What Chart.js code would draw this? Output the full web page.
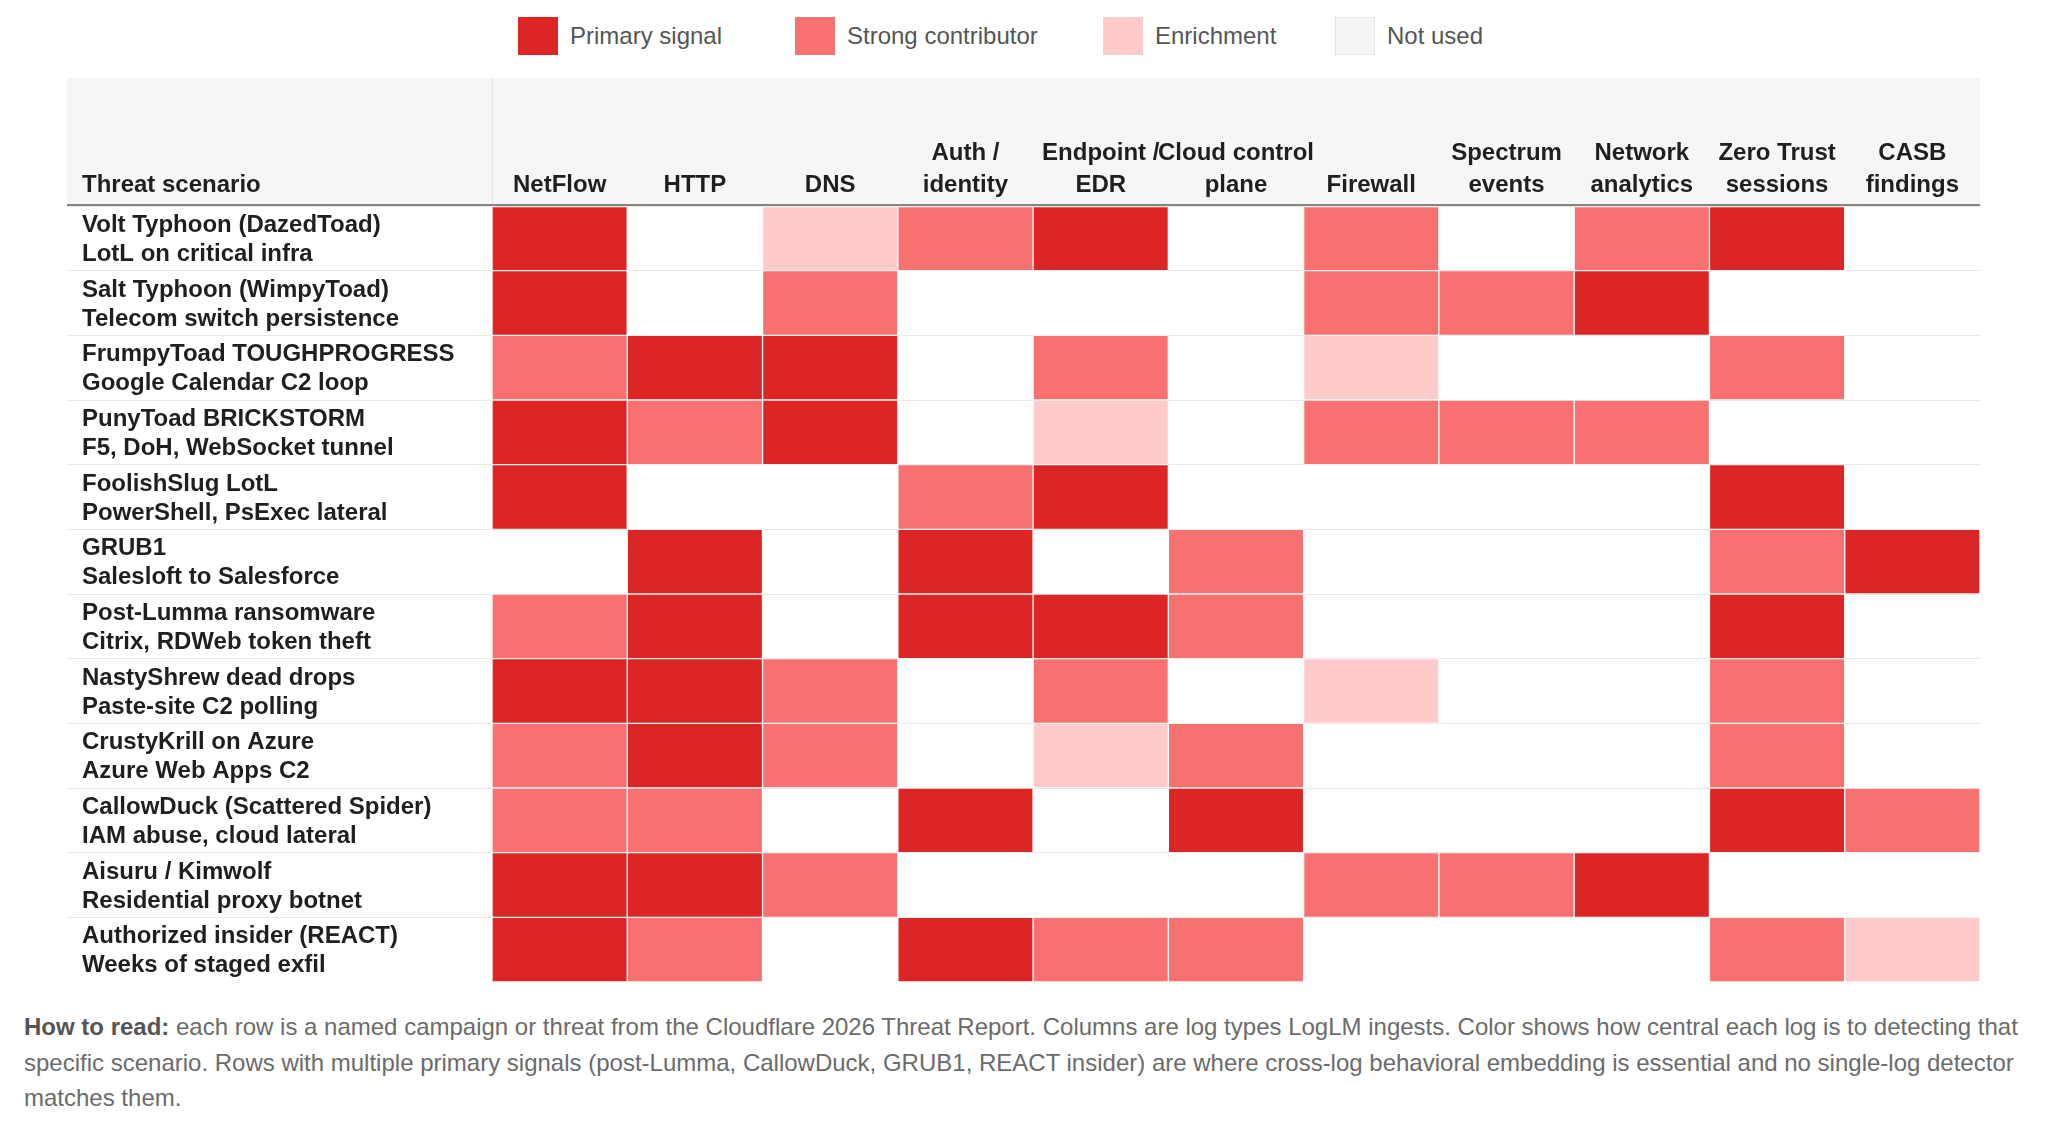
<!DOCTYPE html>
<html>
<head>
<meta charset="utf-8">
<script src="https://cdn.jsdelivr.net/npm/chart.js@4.4.1/dist/chart.umd.min.js"></script>
<style>
  body { margin: 0; background: #fff; width: 2048px; height: 1124px; overflow: hidden;
         font-family: "Liberation Sans", Arial, Helvetica, sans-serif; }
  #chart { position: absolute; left: 0; top: 0; }
  #legend { position: absolute; left: 518px; top: 17px; display: flex; }
  .item { display: flex; align-items: center; font-size: 24px; color: #555; }
  .swatch { width: 40px; height: 38px; margin-right: 12px; box-sizing: border-box; }
  #note { position: absolute; left: 24px; top: 1009px; font-size: 24px; line-height: 35.5px;
          color: #6b6b6b; white-space: nowrap; }
  #note b { color: #555; }
</style>
</head>
<body>
<div id="legend"></div>
<canvas id="chart" width="2048" height="1000"></canvas>
<div id="note"><b>How to read:</b> each row is a named campaign or threat from the Cloudflare 2026 Threat Report. Columns are log types LogLM ingests. Color shows how central each log is to detecting that<br>specific scenario. Rows with multiple primary signals (post-Lumma, CallowDuck, GRUB1, REACT insider) are where cross-log behavioral embedding is essential and no single-log detector<br>matches them.</div>
<script>
// columns: log types
const logTypes = ['NetFlow', 'HTTP', 'DNS', ['Auth /', 'identity'], ['Endpoint /', 'EDR'],
  ['Cloud control', 'plane'], 'Firewall', ['Spectrum', 'events'], ['Network', 'analytics'],
  ['Zero Trust', 'sessions'], ['CASB', 'findings']];

// rows: threat scenarios (name + subtitle)
const scenarioNames = ['Volt Typhoon (DazedToad)', 'Salt Typhoon (WimpyToad)', 'FrumpyToad TOUGHPROGRESS',
  'PunyToad BRICKSTORM', 'FoolishSlug LotL', 'GRUB1', 'Post-Lumma ransomware', 'NastyShrew dead drops',
  'CrustyKrill on Azure', 'CallowDuck (Scattered Spider)', 'Aisuru / Kimwolf', 'Authorized insider (REACT)'];
const scenarioDetails = ['LotL on critical infra', 'Telecom switch persistence', 'Google Calendar C2 loop',
  'F5, DoH, WebSocket tunnel', 'PowerShell, PsExec lateral', 'Salesloft to Salesforce',
  'Citrix, RDWeb token theft', 'Paste-site C2 polling', 'Azure Web Apps C2', 'IAM abuse, cloud lateral',
  'Residential proxy botnet', 'Weeks of staged exfil'];

// 0 = not used, 1 = enrichment, 2 = strong contributor, 3 = primary signal
const voltTyphoon  = [3, 0, 1, 2, 3, 0, 2, 0, 2, 3, 0];
const saltTyphoon  = [3, 0, 2, 0, 0, 0, 2, 2, 3, 0, 0];
const frumpyToad   = [2, 3, 3, 0, 2, 0, 1, 0, 0, 2, 0];
const punyToad     = [3, 2, 3, 0, 1, 0, 2, 2, 2, 0, 0];
const foolishSlug  = [3, 0, 0, 2, 3, 0, 0, 0, 0, 3, 0];
const grub1        = [0, 3, 0, 3, 0, 2, 0, 0, 0, 2, 3];
const postLumma    = [2, 3, 0, 3, 3, 2, 0, 0, 0, 3, 0];
const nastyShrew   = [3, 3, 2, 0, 2, 0, 1, 0, 0, 2, 0];
const crustyKrill  = [2, 3, 2, 0, 1, 2, 0, 0, 0, 2, 0];
const callowDuck   = [2, 2, 0, 3, 0, 3, 0, 0, 0, 3, 2];
const aisuru       = [3, 3, 2, 0, 0, 0, 2, 2, 3, 0, 0];
const reactInsider = [3, 2, 0, 3, 2, 2, 0, 0, 0, 2, 1];
const signalRows = [voltTyphoon, saltTyphoon, frumpyToad, punyToad, foolishSlug, grub1,
  postLumma, nastyShrew, crustyKrill, callowDuck, aisuru, reactInsider];

const levelNames = ['Primary signal', 'Strong contributor', 'Enrichment', 'Not used'];
const levelColors = ['#dc2626', '#f87171', '#fecaca', 'rgba(0,0,0,0)'];   // index by 3 - level
const swatchColors = ['#dc2626', '#f87171', '#fecaca', '#f5f5f4'];
const legendWidths = [277, 308, 232, null];

const FONT = '"Liberation Sans", Arial, Helvetica, sans-serif';
const INK = '#1f1f1f';

// html legend
const legendEl = document.getElementById('legend');
levelNames.forEach((name, i) => {
  const item = document.createElement('div');
  item.className = 'item';
  if (legendWidths[i]) item.style.width = legendWidths[i] + 'px';
  const sw = document.createElement('span');
  sw.className = 'swatch';
  sw.style.background = swatchColors[i];
  if (i === 3) sw.style.border = '1px solid #e6e6e4';
  item.appendChild(sw);
  item.appendChild(document.createTextNode(name));
  legendEl.appendChild(item);
});

// header band, row labels and header border
const tablePlugin = {
  id: 'tableDecor',
  beforeDraw(chart) {
    const { ctx, chartArea } = chart;
    const x = chart.scales.x;
    ctx.save();
    ctx.fillStyle = '#f6f6f4';
    ctx.fillRect(67, x.top, chartArea.right - 67, chartArea.top - x.top);
    ctx.strokeStyle = '#e4e4e2';
    ctx.lineWidth = 1;
    ctx.beginPath();
    ctx.moveTo(chartArea.left + 0.5, x.top);
    ctx.lineTo(chartArea.left + 0.5, chartArea.top);
    ctx.stroke();
    ctx.restore();
  },
  afterDraw(chart) {
    const { ctx, chartArea } = chart;
    const y = chart.scales.y;
    ctx.save();
    ctx.strokeStyle = '#858585';
    ctx.lineWidth = 2;
    ctx.beginPath();
    ctx.moveTo(67, chartArea.top - 1);
    ctx.lineTo(chartArea.right, chartArea.top - 1);
    ctx.stroke();

    ctx.fillStyle = INK;
    ctx.font = 'bold 24px ' + FONT;
    ctx.textBaseline = 'middle';
    ctx.textAlign = 'left';
    ctx.fillText('Threat scenario', 82, chartArea.top - 21);
    scenarioNames.forEach((name, r) => {
      const yc = y.getPixelForValue(r + 0.5);
      ctx.fillText(name, 82, yc - 13);
      ctx.fillText(scenarioDetails[r], 82, yc + 16);
    });
    ctx.restore();
  }
};

// one stacked dataset per scenario row; each cell is one row unit tall
const datasets = signalRows.map((levels, r) => ({
  label: scenarioNames[r],
  data: levels.map(() => 1),
  backgroundColor: levels.map(v => levelColors[3 - v]),
  borderColor: levels.map(v => v === 0 ? 'rgba(0,0,0,0)' : 'rgba(255,255,255,0.35)'),
  borderWidth: 1,
  borderSkipped: false,
  barPercentage: 1,
  categoryPercentage: 1
}));

new Chart(document.getElementById('chart'), {
  type: 'bar',
  data: { labels: logTypes, datasets: datasets },
  plugins: [tablePlugin],
  options: {
    responsive: false,
    animation: false,
    layout: { padding: { left: 67, right: 68, top: 78, bottom: 18 } },
    plugins: { legend: { display: false }, tooltip: { enabled: false } },
    scales: {
      x: {
        position: 'top',
        stacked: true,
        grid: { display: false, drawTicks: false },
        border: { display: false },
        ticks: {
          padding: 4,
          maxRotation: 0,
          autoSkip: false,
          color: INK,
          font: { family: FONT, size: 24, weight: 'bold', lineHeight: 1.35 }
        },
        afterFit(scale) { scale.height = 128; }
      },
      y: {
        type: 'linear',
        stacked: true,
        reverse: true,
        min: 0,
        max: signalRows.length,
        ticks: { display: false, stepSize: 1 },
        border: { display: false },
        grid: {
          color: ctx => (ctx.tick && ctx.tick.value === signalRows.length) ? 'rgba(0,0,0,0)' : '#e8e8e6',
          lineWidth: 1,
          tickLength: 425
        }
      }
    }
  }
});
</script>
</body>
</html>
